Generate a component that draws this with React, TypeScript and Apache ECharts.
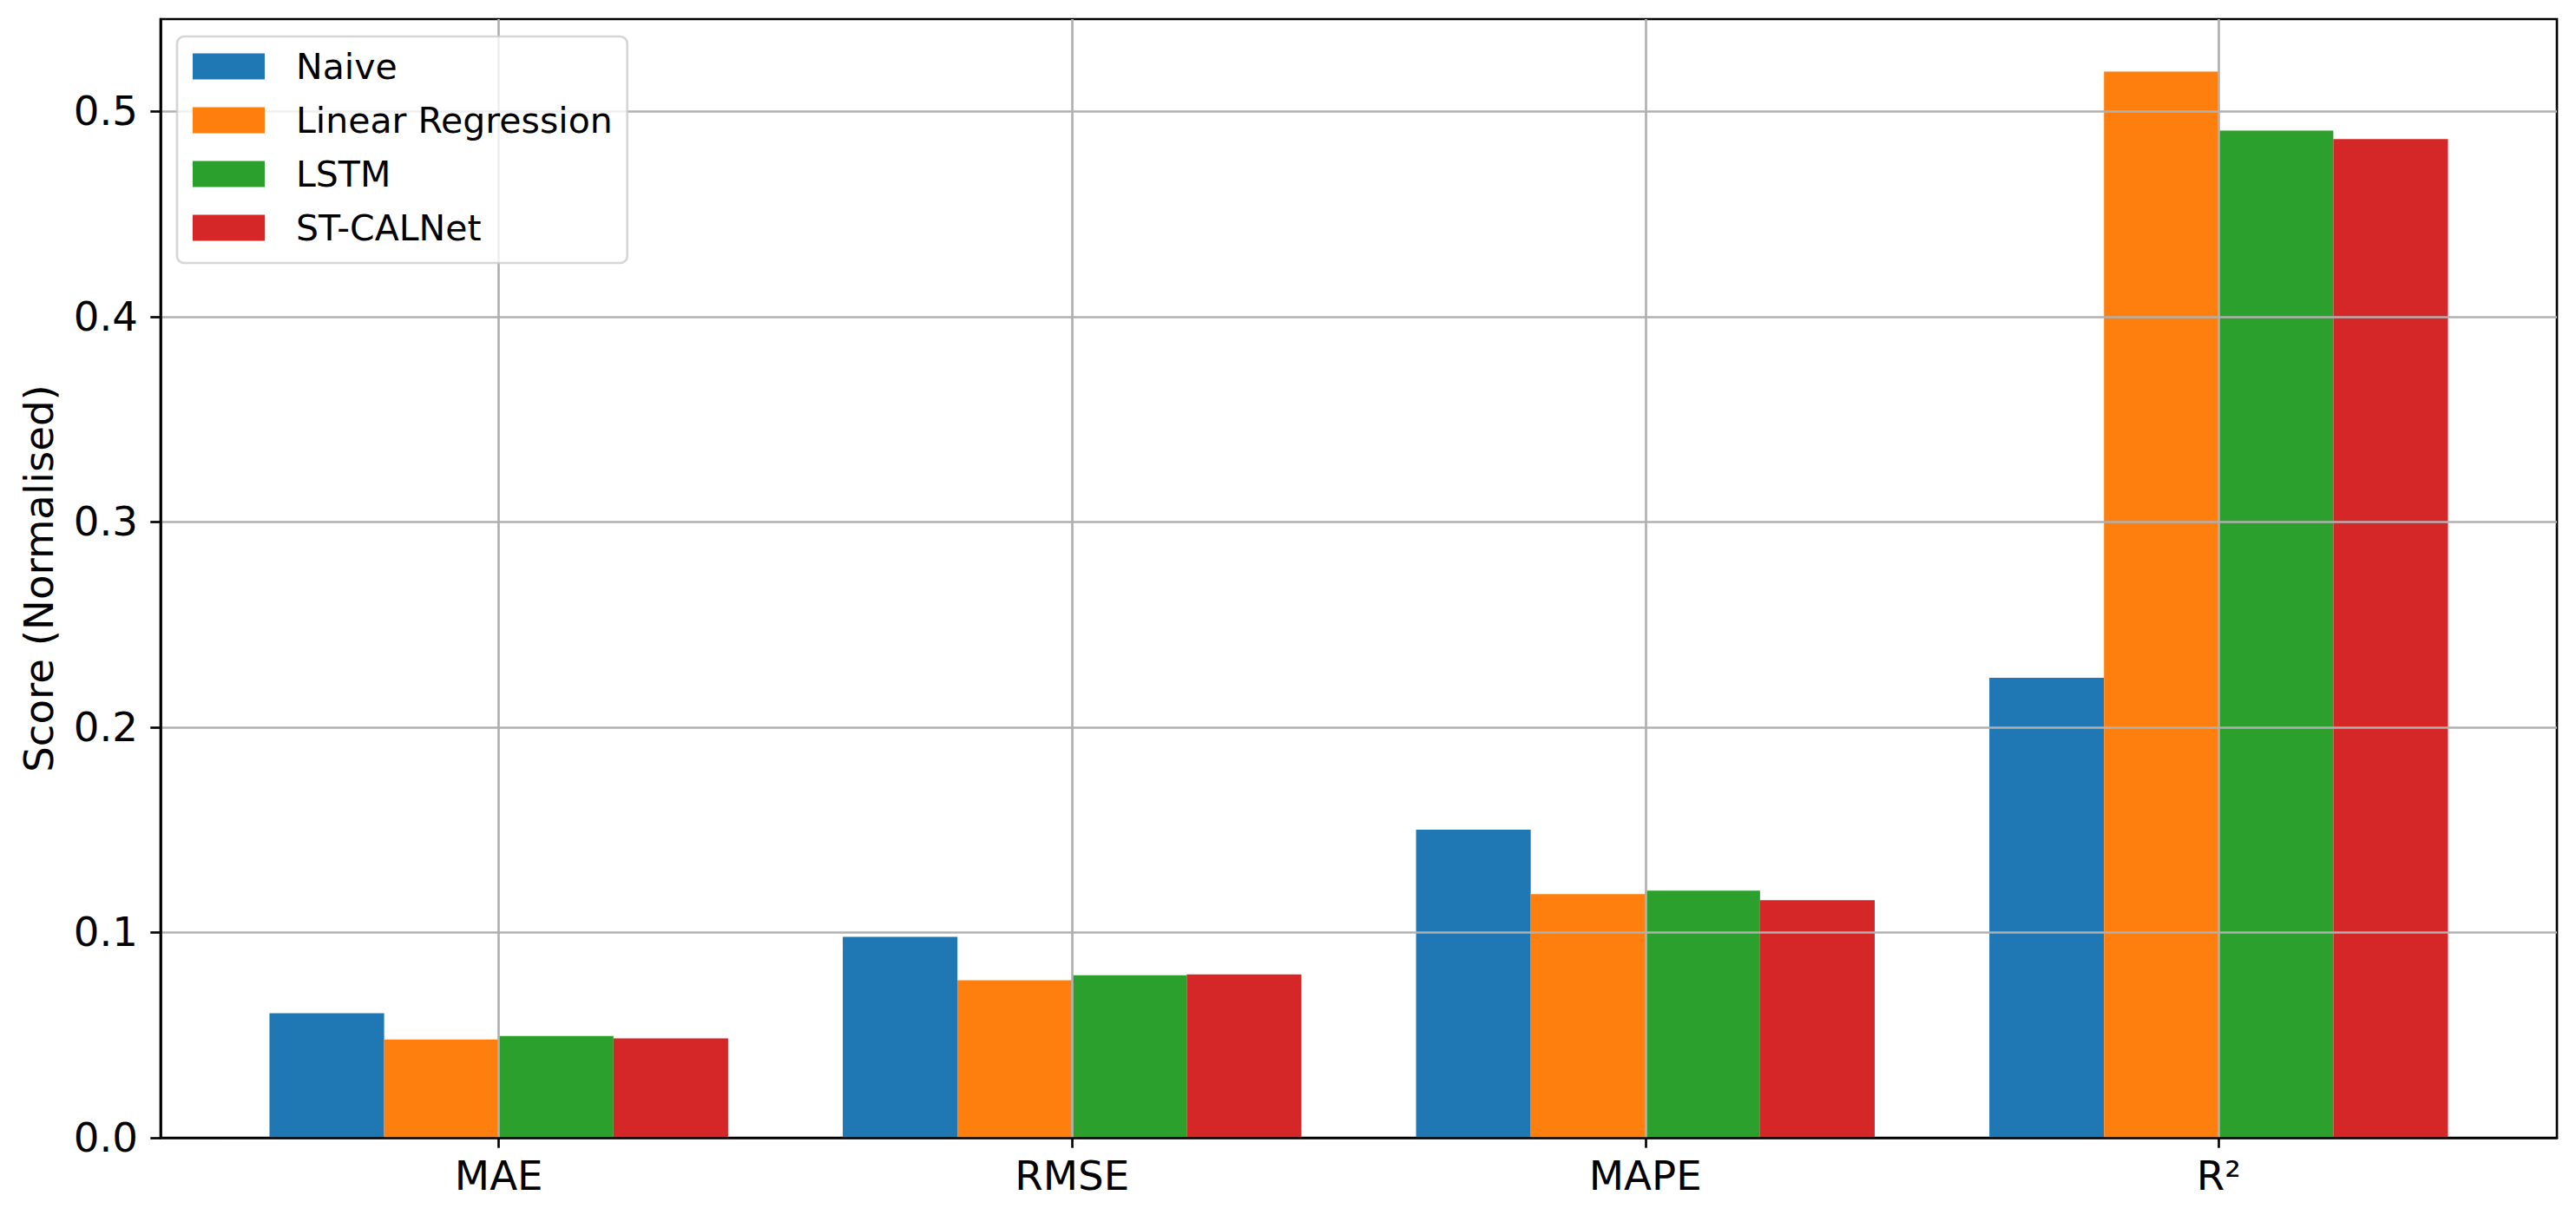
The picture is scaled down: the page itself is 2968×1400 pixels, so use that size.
import React, { useEffect, useRef } from "react";
import * as echarts from "echarts";

const categories = ["MAE", "RMSE", "MAPE", "R²"];
const seriesNames = ["Naive", "Linear Regression", "LSTM", "ST-CALNet"];
const naive = [0.0607, 0.0979, 0.1501, 0.2241];
const linearRegression = [0.0479, 0.0767, 0.1187, 0.5194];
const lstm = [0.0496, 0.0792, 0.1204, 0.4907];
const stCalNet = [0.0484, 0.0796, 0.1157, 0.4865];
const yTicks = [0, 0.1, 0.2, 0.3, 0.4, 0.5];
const xTicks = [0, 1, 2, 3];

const colors = ["#1f77b4", "#ff7f0e", "#2ca02c", "#d62728"];
const FONT = "DejaVu Sans";

export default function App() {
  const ref = useRef<HTMLDivElement>(null);

  useEffect(() => {
    document.body.style.margin = "0";
    if (!ref.current) return;
    const chart = echarts.init(ref.current, null, { renderer: "svg" });

    const gridLeft = 185;
    const gridTop = 22;
    const gridWidth = 2761;
    const gridHeight = 1289;
    const xMin = -0.59;
    const xMax = 3.59;
    const barUnit = 0.2;
    const barPx = (barUnit * gridWidth) / (xMax - xMin);
    const offsets = [-0.3, -0.1, 0.1, 0.3];
    const allValues = [naive, linearRegression, lstm, stCalNet];
    const gridColor = "#b0b0b0";
    const lw = 2.67;

    const series: any[] = allValues.map((vals, si) => ({
      name: seriesNames[si],
      type: "bar",
      barWidth: barPx,
      barGap: "-100%",
      itemStyle: { color: colors[si] },
      data: vals.map((v, i) => [i + offsets[si], v]),
      silent: true,
      z: 2,
    }));

    series[3].markLine = {
      silent: true,
      symbol: ["none", "none"],
      label: { show: false },
      lineStyle: { color: gridColor, width: lw, type: "solid" },
      emphasis: { disabled: true },
      z: 5,
      data: [
        ...xTicks.map((x) => ({ xAxis: x })),
        ...yTicks.filter((y) => y > 0).map((y) => ({ yAxis: y })),
      ],
    };

    chart.setOption({
      animation: false,
      grid: {
        left: gridLeft,
        top: gridTop,
        width: gridWidth,
        height: gridHeight,
        show: true,
        borderColor: "#000",
        borderWidth: lw,
        backgroundColor: "transparent",
      },
      legend: {
        data: seriesNames,
        orient: "vertical",
        left: 204,
        top: 42,
        icon: "rect",
        itemWidth: 83,
        itemHeight: 30,
        itemGap: 21,
        padding: [14, 17, 20, 18],
        backgroundColor: "rgba(255,255,255,0.8)",
        borderColor: "rgba(204,204,204,0.8)",
        borderWidth: lw,
        borderRadius: 8,
        z: 10,
        selectedMode: false,
        textStyle: {
          fontFamily: FONT,
          fontSize: 41,
          lineHeight: 40,
          color: "#000",
          padding: [0, 0, 0, 31],
        },
      },
      xAxis: {
        type: "value",
        min: xMin,
        max: xMax,
        z: 10,
        axisLine: { show: true, onZero: false, lineStyle: { color: "#000", width: lw } },
        axisTick: {
          show: true,
          length: 11.7,
          lineStyle: { color: "#000", width: lw },
          customValues: xTicks,
        },
        axisLabel: {
          customValues: xTicks,
          formatter: (v: number) => categories[Math.round(v)] ?? "",
          fontFamily: FONT,
          fontSize: 46.7,
          color: "#000",
          margin: 20,
        },
        splitLine: { show: false },
      },
      yAxis: {
        type: "value",
        min: 0,
        max: 0.545,
        interval: 0.1,
        z: 10,
        name: "Score (Normalised)",
        nameLocation: "middle",
        nameGap: 117,
        nameTextStyle: { fontFamily: FONT, fontSize: 46.7, color: "#000" },
        axisLine: { show: true, onZero: false, lineStyle: { color: "#000", width: lw } },
        axisTick: {
          show: true,
          length: 11.7,
          lineStyle: { color: "#000", width: lw },
          customValues: yTicks,
        },
        axisLabel: {
          customValues: yTicks,
          formatter: (v: number) => v.toFixed(1),
          fontFamily: FONT,
          fontSize: 46.7,
          color: "#000",
          margin: 26,
        },
        splitLine: { show: false },
      },
      series,
    });

    return () => chart.dispose();
  }, []);

  return (
    <div
      ref={ref}
      style={{ position: "absolute", left: 0, top: 0, width: 2968, height: 1400, background: "#fff" }}
    />
  );
}
